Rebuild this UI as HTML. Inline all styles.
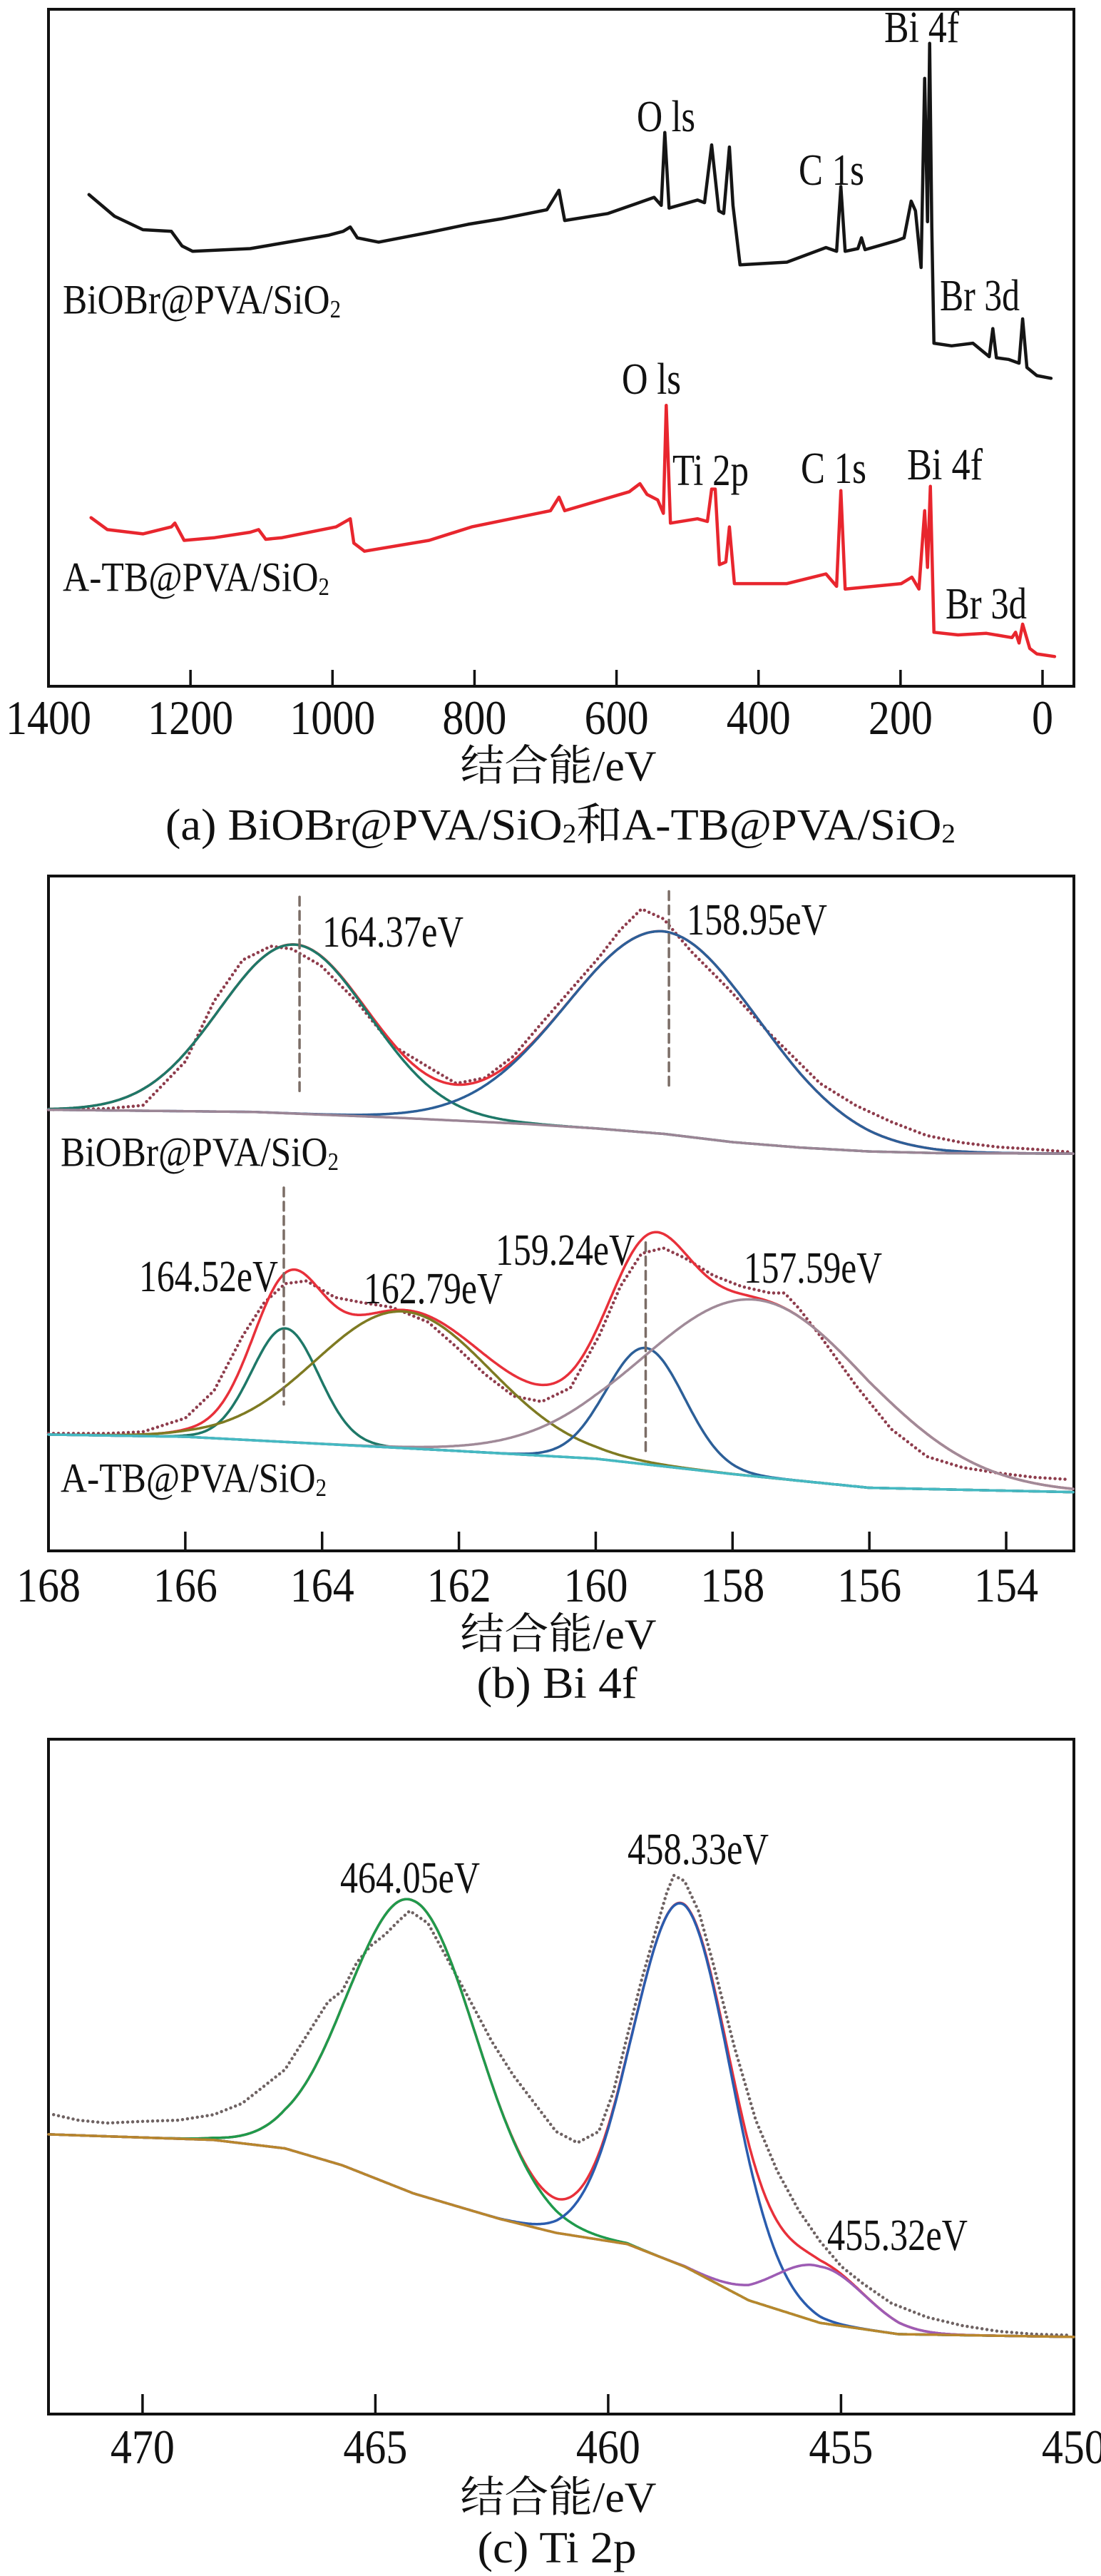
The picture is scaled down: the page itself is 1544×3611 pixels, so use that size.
<!DOCTYPE html>
<html><head><meta charset="utf-8"><title>XPS spectra</title>
<style>
html,body{margin:0;padding:0;background:#fff;}
svg{display:block;}
text{font-family:"Liberation Serif","Noto Serif CJK SC","Noto Sans CJK SC",serif;fill:#111;}
</style></head>
<body>
<svg id="fig" xmlns="http://www.w3.org/2000/svg" width="1544" height="3611" viewBox="0 0 1544 3611">
<rect x="0" y="0" width="1544" height="3611" fill="#fff"/>
</svg>
<script>
// ---------- Panel (a) survey spectra ----------
const surveyBlackEV=[1343,1307,1267,1227,1212,1197,1116,1005,985,975,965,935,864,809,763,698,681,673,612,562,547,537,532,526,486,476,466,456,449,441,436,426,360,305,290,284,278,260,255,250,205,195,185,179,171,166,162,159,156,153,128,98,75,70,65,48,33,28,22,8,-12];
const surveyBlackInt=[910,870,845,842,815,805,810,835,842,850,830,822,840,855,865,882,918,862,875,898,905,890,1025,885,900,895,1002,880,875,998,890,780,785,812,805,925,805,810,830,808,825,830,898,880,775,1125,860,1190,850,635,630,635,610,662,608,605,598,680,590,575,570];
const surveyRedEV=[1340,1317,1267,1227,1222,1209,1166,1116,1104,1094,1071,995,975,970,955,864,804,693,681,673,582,567,557,542,534,530,524,486,472,466,461,455,446,441,434,360,305,290,284,278,199,184,174,166,162,158,153,119,79,43,38,33,28,18,8,-17];
const surveyRedInt=[312,290,282,295,302,270,275,285,290,272,275,295,310,265,250,270,295,325,350,325,360,375,355,345,320,520,302,310,305,365,365,225,230,295,190,190,208,185,362,180,190,202,180,325,220,370,100,95,98,90,100,80,115,70,60,55];
const surveyTicks=[1400,1200,1000,800,600,400,200,0];

// ---------- Panel (b) Bi 4f ----------
const bi1ExpEV=[168.00,167.15,166.62,166.00,165.58,165.16,164.75,164.44,164.02,163.50,162.98,162.45,162.04,161.62,161.20,160.79,160.37,159.95,159.64,159.33,159.01,158.60,158.08,157.45,156.72,156.20,155.68,155.16,154.64,154.12,153.59,153.07];
const bi1ExpInt=[804,806,812,892,1002,1077,1102,1097,1067,1002,922,882,852,862,902,962,1022,1082,1132,1170,1152,1092,1027,942,852,812,782,757,744,736,732,727];
const bi1BaseEV=[168,165,163,161,160,159,158,157,156,155,153];
const bi1BaseInt=[804,800,790,778,770,760,745,735,728,725,724];
const bi1PeakCenter=[164.41,159.01];
const bi1PeakAmp=[308,369];
const bi1PeakSigma=[1.09,1.41];
const bi1Markers=[164.33,158.93];

const bi2ExpEV=[168.00,167.15,166.62,166.00,165.58,165.16,164.85,164.54,164.23,163.81,163.39,162.98,162.45,162.04,161.62,161.20,160.79,160.37,159.95,159.64,159.33,159.01,158.70,158.28,157.87,157.45,157.24,157.03,156.72,156.20,155.68,155.16,154.64,154.12,153.59,153.07];
const bi2ExpInt=[214,214,217,242,292,392,452,487,492,462,452,444,417,372,322,282,272,297,392,482,542,552,534,502,482,470,470,442,392,302,222,172,152,142,134,130];
const bi2BaseEV=[168,166,164,162,160,158,156,153];
const bi2BaseInt=[212,208,195,182,168,140,115,107];
const bi2PeakCenter=[164.54,162.82,159.27,157.66];
const bi2PeakAmp=[207,249,212,322];
const bi2PeakSigma=[0.49,1.28,0.57,1.64];
const bi2Markers=[164.56,159.27];
const biTicks=[168,166,164,162,160,158,156,154];

// ---------- Panel (c) Ti 2p ----------
const tiExpEV=[471.91,471.38,470.76,470.00,469.23,468.47,467.86,467.40,466.94,466.48,466.02,465.71,465.40,465.10,464.79,464.49,464.26,463.87,463.41,462.95,462.50,462.04,461.58,461.12,460.66,460.20,459.89,459.59,459.28,458.97,458.74,458.59,458.36,458.05,457.75,457.29,456.83,456.37,455.91,455.45,454.99,454.53,453.92,453.15,452.39,451.62,450.86,450.09];
const tiExpInt=[532,522,517,520,522,532,552,582,612,672,732,752,802,832,852,877,894,872,802,732,662,602,552,502,482,502,572,672,772,862,927,957,947,892,802,652,522,432,362,307,262,232,197,172,157,147,142,140];
const tiBaseEV=[472.02,468.47,466.94,465.71,464.18,462.34,461.12,459.59,458.36,456.98,455.45,453.77,450.0];
const tiBaseInt=[497,487,472,442,392,347,322,302,262,202,162,142,137];
const tiPeakCenter=[464.21,458.41,455.45];
const tiPeakAmp=[520,643,100];
const tiPeakSigma=[1.36,1.04,0.95];
const tiTicks=[470,465,460,455,450];

// ---------- drawing ----------
const NS="http://www.w3.org/2000/svg";
const svg=document.getElementById('fig');
function mk(tag,attrs,parent){const e=document.createElementNS(NS,tag);for(const k in attrs)e.setAttribute(k,attrs[k]);(parent||svg).appendChild(e);return e;}
function interp(xs,ys,x){
  if(x>=xs[0])return ys[0];
  for(let i=1;i<xs.length;i++){if(x>=xs[i]){const t=(x-xs[i-1])/(xs[i]-xs[i-1]);return ys[i-1]+t*(ys[i]-ys[i-1]);}}
  return ys[ys.length-1];
}
function pathFrom(xs,ys,sx,sy){let d='';for(let i=0;i<xs.length;i++){d+=(i?'L':'M')+sx(xs[i]).toFixed(1)+' '+sy(ys[i]).toFixed(1);}return d;}
function gauss(x,c,a,s){return a*Math.exp(-(x-c)*(x-c)/(2*s*s));}

function frame(g,L,T,R,B){const r=mk('rect',{x:L,y:T,width:R-L,height:B-T,fill:'none',stroke:'#111','stroke-width':4},g);
  
  }
function ticks(g,vals,sx,B,len,labY){
  const ga=mk('g',{},g);
  
  
  vals.forEach(v=>{const x=sx(v);
    const t=mk('line',{x1:x,x2:x,y1:B,y2:B-len,stroke:'#111','stroke-width':3.5},ga);
    
    
    const s=String(v);
    const tl=mk('text',{x:x,y:labY,'font-size':68,'text-anchor':'middle','dominant-baseline':'central',textLength:s.length*30,lengthAdjust:'spacingAndGlyphs'},ga);
    tl.textContent=s;
    
    
  });}
function label(g,txt,x,yc,w,size,name,sub){
  const t=mk('text',{x:x,y:yc,'font-size':size,'dominant-baseline':'central',textLength:w,lengthAdjust:'spacingAndGlyphs'},g);
  
  
  t.appendChild(document.createTextNode(txt));
  if(sub){const s=mk('tspan',{'font-size':size*0.6,dy:size*0.22},t);s.textContent=sub;}
  return t;}
function centerText(g,txt,x,yc,w,size,name){
  const t=mk('text',{x:x,y:yc,'font-size':size,'text-anchor':'middle','dominant-baseline':'central',textLength:w,lengthAdjust:'spacingAndGlyphs'},g);
  
  
  t.textContent=txt;return t;}
function line(g,d,color,w,name,dash){
  const p=mk('path',{d:d,fill:'none',stroke:color,'stroke-width':w,'stroke-linejoin':'round','stroke-linecap':'round'},g);
  if(dash)p.setAttribute('stroke-dasharray',dash);
  
  
  return p;}

// ===== Panel (a) =====
(function(){
  const g=mk('g',{});
  
  
  const L=68,R=1506,T=13,B=962;
  const sx=v=>68+(1400-v)*(1394/1400);
  const sy=v=>B-v*(949/1253);
  frame(g,L,T,R,B);
  line(g,pathFrom(surveyBlackEV,surveyBlackInt,sx,sy),'#151515',4.5,'series-biobr');
  line(g,pathFrom(surveyRedEV,surveyRedInt,sx,sy),'#e8262e',4.5,'series-a-tb');
  ticks(g,surveyTicks,sx,B,23,1006);
  label(g,'Bi 4f',1240,39,105,62,'label-bi4f-black');
  label(g,'O ls',893,164,82,62,'label-o1s-black');
  label(g,'C 1s',1120,239,92,62,'label-c1s-black');
  label(g,'BiOBr@PVA/SiO',88,420,390,58,'label-biobr','2');
  label(g,'Br 3d',1318,415,112,62,'label-br3d-black');
  label(g,'O ls',872,532,83,62,'label-o1s-red');
  label(g,'Ti 2p',943,660,107,62,'label-ti2p-red');
  label(g,'C 1s',1123,657,92,62,'label-c1s-red');
  label(g,'Bi 4f',1272,652,106,62,'label-bi4f-red');
  label(g,'A-TB@PVA/SiO',88,809,374,58,'label-a-tb','2');
  label(g,'Br 3d',1326,847,114,62,'label-br3d-red');
  centerText(g,'结合能/eV',783,1074,275,60,'x-axis-title-a');
  const c=mk('text',{x:232,y:1157,'font-size':62,'dominant-baseline':'central',textLength:1108,lengthAdjust:'spacingAndGlyphs'},g);
  
  
  c.appendChild(document.createTextNode('(a) BiOBr@PVA/SiO'));
  let s=mk('tspan',{'font-size':38,dy:12},c);s.textContent='2';
  s=mk('tspan',{dy:-12},c);s.textContent='和A-TB@PVA/SiO';
  s=mk('tspan',{'font-size':38,dy:12},c);s.textContent='2';
})();

// ===== Panel (b) =====
(function(){
  const g=mk('g',{});
  
  
  const L=68,R=1506,T=1228,B=2174;
  const sx=v=>68+(168-v)*95.93;
  const sy=v=>B-v*(946/1230);
  frame(g,L,T,R,B);
  const grid=[];for(let e=168;e>=153.0;e-=0.02)grid.push(e);
  function block(expEV,expInt,bEV,bInt,cen,amp,sig,compColors,baseColor,prefix){
    line(g,pathFrom(expEV,expInt,sx,sy),'#8e3c4c',4.5,prefix+'-experimental','0 7');
    const base=grid.map(e=>interp(bEV,bInt,e));
    const env=grid.map((e,i)=>base[i]+cen.reduce((s,c,k)=>s+gauss(e,c,amp[k],sig[k]),0));
    line(g,pathFrom(grid,env,sx,sy),'#e8303a',3.5,prefix+'-fit-envelope');
    cen.forEach((c,k)=>{
      const ys=grid.map((e,i)=>base[i]+gauss(e,c,amp[k],sig[k]));
      line(g,pathFrom(grid,ys,sx,sy),compColors[k],3.5,prefix+'-component-'+k);
    });
    line(g,pathFrom(grid,base,sx,sy),baseColor,3.5,prefix+'-baseline');
  }
  block(bi1ExpEV,bi1ExpInt,bi1BaseEV,bi1BaseInt,bi1PeakCenter,bi1PeakAmp,bi1PeakSigma,['#1e7868','#2c5f98'],'#9b8595','biobr');
  block(bi2ExpEV,bi2ExpInt,bi2BaseEV,bi2BaseInt,bi2PeakCenter,bi2PeakAmp,bi2PeakSigma,['#1e7868','#7e7a22','#2c5f98','#a08a98'],'#45b9c2','a-tb');
  const mTop=[[1192,832],[1202,847]], mBot=[[662,267],[562,172]];
  bi1Markers.forEach((m,k)=>line(g,'M'+sx(m)+' '+sy(mTop[k][0])+'L'+sx(m)+' '+sy(mTop[k][1]),'#7b6d66',3.5,'peak-marker-biobr','12 8'));
  bi2Markers.forEach((m,k)=>line(g,'M'+sx(m)+' '+sy(mBot[k][0])+'L'+sx(m)+' '+sy(mBot[k][1]),'#7b6d66',3.5,'peak-marker-a-tb','12 8'));
  ticks(g,biTicks,sx,B,27,2222);
  label(g,'164.37eV',452,1307,198,62,'label-164-37');
  label(g,'158.95eV',963,1290,197,62,'label-158-95');
  label(g,'BiOBr@PVA/SiO',85,1615,390,58,'label-biobr-b','2');
  label(g,'164.52eV',195,1790,195,62,'label-164-52');
  label(g,'162.79eV',510,1807,195,62,'label-162-79');
  label(g,'159.24eV',695,1753,195,62,'label-159-24');
  label(g,'157.59eV',1043,1778,194,62,'label-157-59');
  label(g,'A-TB@PVA/SiO',85,2072,373,58,'label-a-tb-b','2');
  centerText(g,'结合能/eV',783,2291,275,60,'x-axis-title-b');
  centerText(g,'(b) Bi 4f',781,2360,225,62,'caption-b');
})();

// ===== Panel (c) =====
(function(){
  const g=mk('g',{});
  
  
  const L=68,R=1506,T=2438,B=3384;
  const sx=v=>68+(472.02-v)*65.3;
  const sy=v=>B-v*(946/1199);
  frame(g,L,T,R,B);
  const grid=[];for(let e=472.02;e>=450.0;e-=0.03)grid.push(e);
  line(g,pathFrom(tiExpEV,tiExpInt,sx,sy),'#6e6262',4.5,'ti-experimental','0 7');
  const base=grid.map(e=>interp(tiBaseEV,tiBaseInt,e));
  const env=grid.map((e,i)=>base[i]+tiPeakCenter.reduce((s,c,k)=>s+gauss(e,c,tiPeakAmp[k],tiPeakSigma[k]),0));
  line(g,pathFrom(grid,env,sx,sy),'#e8303a',3.5,'ti-fit-envelope');
  const cols=['#1f9a4c','#2a5cae','#9d5cb4'];
  tiPeakCenter.forEach((c,k)=>{
    const ys=grid.map((e,i)=>base[i]+gauss(e,c,tiPeakAmp[k],tiPeakSigma[k]));
    line(g,pathFrom(grid,ys,sx,sy),cols[k],3.5,'ti-component-'+k);
  });
  line(g,pathFrom(grid,base,sx,sy),'#b8862c',3.5,'ti-baseline');
  ticks(g,tiTicks,sx,B,28,3430);
  label(g,'464.05eV',477,2633,196,62,'label-464-05');
  label(g,'458.33eV',880,2593,198,62,'label-458-33');
  label(g,'455.32eV',1160,3134,197,62,'label-455-32');
  centerText(g,'结合能/eV',783,3501,275,60,'x-axis-title-c');
  centerText(g,'(c) Ti 2p',781,3572,223,62,'caption-c');
})();
</script>
</body></html>
